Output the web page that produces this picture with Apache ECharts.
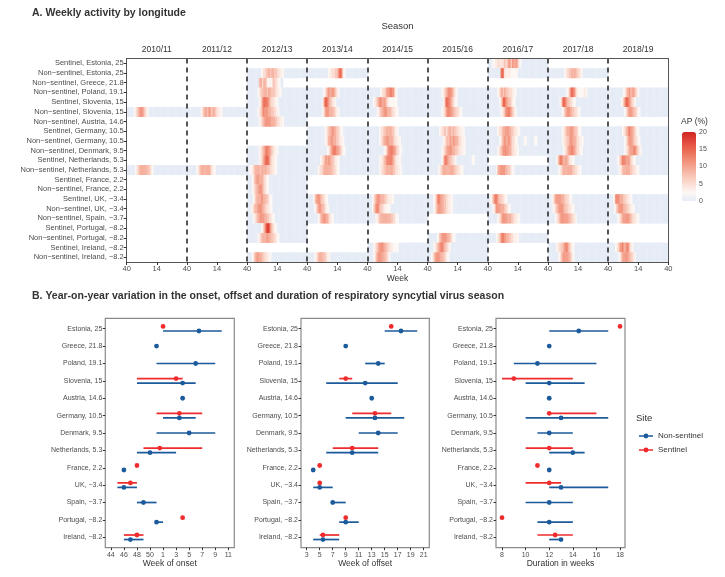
<!DOCTYPE html>
<html><head><meta charset="utf-8">
<script src="https://cdn.jsdelivr.net/npm/echarts@6/dist/echarts.min.js"></script>
<style>html,body{margin:0;padding:0;background:#fff}#c{width:725px;height:577px}</style>
</head><body><div id="c"></div>
<script>
const FONT = 'Liberation Sans, Arial, sans-serif';

// ---------- Panel A data ----------
const seasons = ['2010/11','2011/12','2012/13','2013/14','2014/15','2015/16','2016/17','2017/18','2018/19'];
const WEEKS = 52;
const weekTickValues = [0,26,52,78,104,130,156,182,208,234,260,286,312,338,364,390,416,442,468];
const weekTickLabels = ['40','14'];
const rowLabels = [
  'Sentinel, Estonia, 25','Non\u2212sentinel, Estonia, 25','Non\u2212sentinel, Greece, 21.8','Non\u2212sentinel, Poland, 19.1',
  'Sentinel, Slovenia, 15','Non\u2212sentinel, Slovenia, 15','Non\u2212sentinel, Austria, 14.6','Sentinel, Germany, 10.5',
  'Non\u2212sentinel, Germany, 10.5','Non\u2212sentinel, Denmark, 9.5','Sentinel, Netherlands, 5.3','Non\u2212sentinel, Netherlands, 5.3',
  'Sentinel, France, 2.2','Non\u2212sentinel, France, 2.2','Sentinel, UK, \u22123.4','Non\u2212sentinel, UK, \u22123.4',
  'Non\u2212sentinel, Spain, \u22123.7','Sentinel, Portugal, \u22128.2','Non\u2212sentinel, Portugal, \u22128.2','Sentinel, Ireland, \u22128.2',
  'Non\u2212sentinel, Ireland, \u22128.2'
];
// AP (%) value for each level character; '.' = no data, '' season = no data
const apLevels = [0, 2.5, 3.5, 5, 7, 9, 11, 13, 15, 18];
// weekly activity per row, one string per season (week 40 onwards), unlisted tail weeks = 0
const activity = [
  ['','','','','','','0000'+'1122333233443565466565321','',''],
  ['','','000000000000'+'12334455455444332211','000000000000000000'+'122333445787421','','','00000000000'+'787322222111111','00000000000000'+'1233445555443321',''],
  ['','','0000000000'+'4553554211214433211'+'00'+'.....................','','','','','',''],
  ['','','000000000'+'123445554555444332211','00000000000000'+'12456656654321','00000000000'+'123345667766421','000000000000'+'12345676654321','00000000'+'12355455443332211','0000000000000000'+'124688753211111221','0000000000000'+'12355655654321'],
  ['','','0000000000'+'12468877654332211','0000000000000'+'258876543221','00000'+'123456765654321111111','0000000000000'+'1368876543211','0000000000'+'13588765443211','0000000000'+'13688754433211','00000000000'+'1246887654321'],
  ['000000'+'1234566654321','000000000000'+'1345645654554332211','000000000'+'1234676665554433221','0000000000000'+'135666555443221','00000000'+'1234556665554332211','000000000000'+'123467766554433211','00000000000'+'12346777654321','000000000000'+'1245666554433211','00000000000000'+'12456665443211'],
  ['','','0000000000'+'1234566666655544332211','','','','','',''],
  ['','','','000000000000000'+'1234556655443211','0000000000'+'12334455555443221','0000000000'+'1233443455445443322211','00000000'+'12334556665544332211','000000000000'+'12345556665443211','000000000000'+'123456766543211'],
  ['','','','000000000000000'+'12355665554432211','0000000000'+'1234556665554332211','0000000000000'+'12345465566554332211','0000000000'+'1245665665433211'+'00000111000000111','000000000000'+'1233445666554332211','00000000000000'+'12456665433211'],
  ['','','0000000000'+'12345677665432211','00000000000000000'+'1235677766543211','00000000000000'+'1235777766543211','000000000000'+'123456666555443322211','00000000'+'1234566766554332211','0000000000000'+'12345667765433211','00000000000000'+'123456667654321'],
  ['','','0000000000'+'1234678876432211','00000000000'+'12345656654432211','0000000000'+'1223456777765432211','000000000000'+'1367765443321'+'0000000000000'+'111','','0000000'+'1357765565432211','00000000'+'1245777656543211'],
  ['0000000'+'1234555555544321','00000000'+'12345555555543211','00'+'112345555455555444332211','000000000'+'1233455555554433211','0000000000'+'12334455555544332211','000000000'+'1234555555555544332211','0000000'+'1456666655443211','000000000'+'12345555555544332211','000000000'+'123455555544332211'],
  ['','','0000'+'124566555543211','','','','','',''],
  ['','','0000'+'123455666543211','','','','','',''],
  ['','','00000'+'12455556655443211','00000'+'1356665443211','0000'+'1245666555443322211','00000'+'12467765544332211','00'+'124677654433211','000'+'124566665554433211','0000'+'12677655544332211'],
  ['','','000'+'1234556666554332211','000000'+'1245665543211','0000'+'1356765443221111','00000'+'12456665544332211','0000'+'1246666555443211','0000'+'1234566665544332211','00000'+'124566665544332211'],
  ['','','00000'+'1234556666554433211','000000000'+'12456665543211','0000000'+'12345555555554433211','','00000000'+'12346666655544332211','000000'+'1234566666655443321','00000000'+'1234566666554332211'],
  ['','','000000000000'+'12468998643211','','','','','',''],
  ['','','000000000'+'1234555565554433211','','','00000000'+'1245666665543211','0000000'+'12346776655443322211','',''],
  ['','','','','00000'+'1234566765544332211111','00000'+'123456776544321','','0000000'+'1233445677543211','000000'+'1234667656764321'],
  ['','','0000'+'12456655544332211','000000'+'12345555443221','00000'+'124566665544321','000'+'1245666655443211','','000000000'+'12456666554321','000000000'+'124566665544321']
];
const apLegendTicks = [20, 15, 10, 5, 0];

// ---------- Panel B data ----------
const countries = ['Estonia, 25','Greece, 21.8','Poland, 19.1','Slovenia, 15','Austria, 14.6','Germany, 10.5','Denmark, 9.5',
  'Netherlands, 5.3','France, 2.2','UK, \u22123.4','Spain, \u22123.7','Portugal, \u22128.2','Ireland, \u22128.2'];
// [low, high, estimate]; onset on a continuous week scale where 52 = week 1
const onsetTickValues = [44,46,48,50,52,54,56,58,60,62];
const onsetTickLabels = ['44','46','48','50','1','3','5','7','9','11'];
const onsetNS = [[52,61,57.5],[51,51,51],[51,60,57],[48,57,55],[55,55,55],[52,57,54.5],[51,60,56],[48,54,50],[46,46,46],[45,48,46],[48,51,49],[51,52,51],[46,49,47]];
const onsetS  = [[52,52,52],null,null,[48,55,54],null,[51,58,54.5],null,[49,58,51.5],[48,48,48],[45,48,47],null,[55,55,55],[46,49,48]];
const offsetTickValues = [3,5,7,9,11,13,15,17,19,21];
const offsetNS = [[15,20,17.5],[9,9,9],[12,15,14],[6,17,12],[13,13,13],[9,18,13.5],[11,17,14],[6,14,10],[4,4,4],[4,7,5],[7,9,7],[8,11,9],[4,8,5.5]];
const offsetS  = [[16,16,16],null,null,[8,10,9],null,[10,16,13.5],null,[7,14,10],[5,5,5],[5,5,5],null,[9,9,9],[5,8,5.5]];
const durationTickValues = [8,10,12,14,16,18];
const durationNS = [[12,17,14.5],[12,12,12],[9,16,11],[10,15,12],[12,12,12],[10,17,13],[11,14,12],[12,15,14],[12,12,12],[12,17,13],[10,14,12],[11,14,12],[12,13,13]];
const durationS  = [[18,18,18],null,null,[8,14,9],null,[12,16,12],null,[10,14,12],[11,11,11],[10,13,12],null,[8,8,8],[11,14,12.5]];

// ---------- build ----------
const heatData = [];
activity.forEach((segs, r) => segs.forEach((str, s) => {
  if (!str) return;
  for (let w = 0; w < WEEKS; w++) {
    const ch = w < str.length ? str[w] : '0';
    if (ch === '.') continue;
    heatData.push([s * WEEKS + w, r, apLevels[+ch]]);
  }
}));

const BLUE = '#1b5a9b', RED = '#ef2b2d';
const DODGE = 0.13;
function errData(arr, other, sign) {
  const out = [];
  arr.forEach((d, i) => { if (d) out.push([d[0], d[1], d[2], i + (other[i] ? sign * DODGE : 0)]); });
  return out;
}
function errRender(color) {
  return function (params, api) {
    const y = api.value(3);
    const a = api.coord([api.value(0), y]), b = api.coord([api.value(1), y]), c = api.coord([api.value(2), y]);
    const ch = [];
    if (b[0] - a[0] > 0.5) ch.push({type:'line', shape:{x1:a[0], y1:a[1], x2:b[0], y2:b[1]}, style:{stroke:color, lineWidth:1.7}});
    ch.push({type:'circle', shape:{cx:c[0], cy:c[1], r:2.4}, style:{fill:color}});
    return {type:'group', children: ch};
  };
}

const lblStyle = {fontSize:7, color:'#4d4d4d', fontFamily:FONT};
const BG = [
  {left:105.3, width:129, ticks:onsetTickValues, min:43.15, max:62.92, name:'Week of onset', fmt:v => onsetTickLabels[onsetTickValues.indexOf(v)], ns:onsetNS, s:onsetS},
  {left:301, width:128.3, ticks:offsetTickValues, min:2.12, max:21.86, name:'Week of offset', fmt:v => String(v), ns:offsetNS, s:offsetS},
  {left:496, width:129, ticks:durationTickValues, min:7.49, max:18.42, name:'Duration in weeks', fmt:v => String(v), ns:durationNS, s:durationS}
];

const grids = [{left:126.7, top:58.5, width:541.6, height:203.5}];
const xAxes = [
  {gridIndex:0, type:'value', min:0, max:seasons.length*WEEKS, position:'bottom', z:5,
   axisLine:{onZero:false, lineStyle:{color:'#555', width:1}},
   axisTick:{customValues:weekTickValues, length:3, lineStyle:{color:'#333'}},
   axisLabel:{customValues:weekTickValues, formatter:v => weekTickLabels[(v % WEEKS === 0) ? 0 : 1], fontSize:7.5, color:'#4d4d4d', margin:3, fontFamily:FONT},
   splitLine:{show:false}, name:'Week', nameLocation:'middle', nameGap:11, nameTextStyle:{fontSize:8.5, color:'#333', fontFamily:FONT}},
  {gridIndex:0, type:'value', min:0, max:seasons.length*WEEKS, position:'top', z:5,
   axisLine:{onZero:false, lineStyle:{color:'#555', width:1}},
   axisTick:{show:false, customValues:seasons.slice(1).map((s, i) => (i + 1) * WEEKS)},
   axisLabel:{customValues:seasons.map((s, i) => i * WEEKS + WEEKS / 2), formatter:v => seasons[(v - WEEKS / 2) / WEEKS], fontSize:8.5, color:'#333', margin:4, fontFamily:FONT},
   splitLine:{show:true, lineStyle:{color:'#2b2b2b', width:1.6, type:[5,4]}},
   name:'Season', nameLocation:'middle', nameGap:27, nameTextStyle:{fontSize:9.5, color:'#333', fontFamily:FONT}}
];
const rowTicks = rowLabels.map((l, i) => i + 0.5);
const yAxes = [
  {gridIndex:0, type:'value', min:0, max:rowLabels.length, inverse:true, position:'left', z:5,
   axisLine:{show:true, onZero:false, lineStyle:{color:'#555'}},
   axisTick:{show:true, customValues:rowTicks, length:3, lineStyle:{color:'#333'}},
   axisLabel:{customValues:rowTicks, formatter:v => rowLabels[Math.floor(v)], fontSize:7.5, color:'#4d4d4d', margin:3, fontFamily:FONT},
   splitLine:{show:false}},
  {gridIndex:0, type:'value', min:0, max:rowLabels.length, inverse:true, position:'right', z:5,
   axisLine:{show:true, onZero:false, lineStyle:{color:'#555'}}, axisTick:{show:false}, axisLabel:{show:false}, splitLine:{show:false}}
];
const series = [{
  type:'custom', xAxisIndex:0, yAxisIndex:0, data:heatData, encode:{x:0, y:1}, z:2, silent:true,
  renderItem:function (params, api) {
    const x = api.value(0), y = api.value(1);
    const p0 = api.coord([x, y]), p1 = api.coord([x + 1, y + 1]);
    return {type:'rect', shape:{x:p0[0], y:Math.min(p0[1], p1[1]), width:p1[0] - p0[0] + 0.4, height:Math.abs(p1[1] - p0[1]) + 0.3}, style:{fill:api.visual('color')}};
  }
}];
const countryTicks = countries.map((c, i) => i);
BG.forEach((g, k) => {
  const gi = k + 1;
  const xi = xAxes.length, yi = yAxes.length;
  grids.push({left:g.left, top:318.3, width:g.width, height:229.4, show:true, borderColor:'#8a8a8a', borderWidth:1.2, backgroundColor:'transparent'});
  xAxes.push({gridIndex:gi, type:'value', min:g.min, max:g.max,
    axisLine:{show:false, onZero:false}, splitLine:{show:false},
    axisTick:{customValues:g.ticks, length:2.5, lineStyle:{color:'#333'}},
    axisLabel:Object.assign({customValues:g.ticks, formatter:g.fmt, margin:3.5}, lblStyle),
    name:g.name, nameLocation:'middle', nameGap:11, nameTextStyle:{fontSize:8.5, color:'#333', fontFamily:FONT}});
  yAxes.push({gridIndex:gi, type:'value', min:-0.6, max:countries.length - 0.4, inverse:true,
    axisLine:{show:false, onZero:false}, splitLine:{show:false},
    axisTick:{customValues:countryTicks, length:2.5, lineStyle:{color:'#333'}},
    axisLabel:Object.assign({customValues:countryTicks, formatter:v => countries[v], margin:3}, lblStyle)});
  series.push({type:'custom', name:'Sentinel', xAxisIndex:xi, yAxisIndex:yi, itemStyle:{color:RED},
    data:errData(g.s, g.ns, -1), encode:{x:[0,1,2], y:3}, renderItem:errRender(RED), z:3});
  series.push({type:'custom', name:'Non-sentinel', xAxisIndex:xi, yAxisIndex:yi, itemStyle:{color:BLUE},
    data:errData(g.ns, g.s, 1), encode:{x:[0,1,2], y:3}, renderItem:errRender(BLUE), z:4});
});

const ICON = 'path://M0,4.2H16V5.8H0Z M8,2.2A2.8,2.8,0,1,1,7.99,2.2Z';
const graphics = [
  {type:'text', left:681, top:117, style:{text:'AP (%)', fontSize:8.5, fill:'#333', fontFamily:FONT}},
  {type:'text', left:636, top:413, style:{text:'Site', fontSize:9.5, fill:'#333', fontFamily:FONT}}
];
apLegendTicks.forEach(v => {
  graphics.push({type:'text', x:699, y:132 + (20 - v) / 20 * 69, style:{text:String(v), fontSize:7, fill:'#4d4d4d', fontFamily:FONT, verticalAlign:'middle'}});
});

const option = {
  animation:false,
  backgroundColor:'#fff',
  textStyle:{fontFamily:FONT},
  title:[
    {text:'A. Weekly activity by longitude', left:27, top:3, textStyle:{fontSize:10.5, fontWeight:'bold', color:'#333', fontFamily:FONT}},
    {text:'B. Year-on-year variation in the onset, offset and duration of respiratory syncytial virus season', left:27, top:286, textStyle:{fontSize:10.5, fontWeight:'bold', color:'#333', fontFamily:FONT}}
  ],
  grid:grids, xAxis:xAxes, yAxis:yAxes, series:series,
  visualMap:{type:'continuous', seriesIndex:0, dimension:2, min:0, max:20, calculable:false, orient:'vertical',
    left:677, top:127, itemWidth:14, itemHeight:69, text:null, padding:5,
    inRange:{color:['#e6ecf6','#fdf7f4','#fbddd3','#f8c2b3','#f4a490','#f0866f','#ea6550','#e0453a','#d0261f']}},
  legend:{data:[{name:'Non-sentinel', icon:ICON},{name:'Sentinel', icon:ICON}], orient:'vertical', left:634, top:427,
    itemWidth:14, itemHeight:5, itemGap:6, selectedMode:false, textStyle:{fontSize:8, color:'#333', fontFamily:FONT}},
  graphic:graphics
};
const chart = echarts.init(document.getElementById('c'));
chart.setOption(option);
</script>
</body></html>
